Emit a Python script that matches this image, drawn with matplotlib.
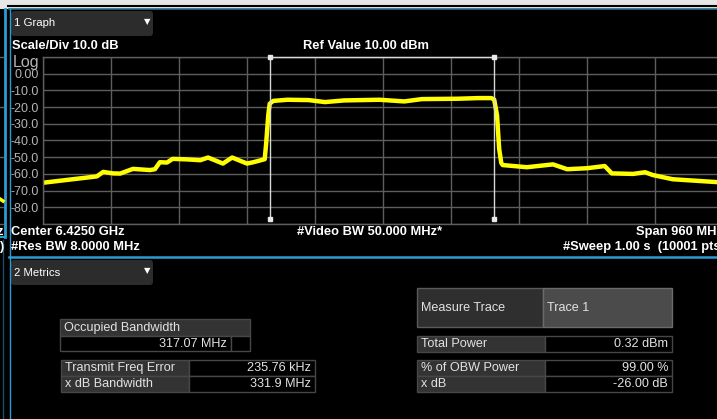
import matplotlib.pyplot as plt
from matplotlib.patches import Rectangle, FancyBboxPatch
import numpy as np

# trace (MHz, dBm)
freq_mhz = [5945, 5979, 6011, 6021, 6030, 6044, 6054, 6072, 6096, 6103, 6110, 6120,
            6128, 6148, 6167, 6178, 6199, 6212, 6233, 6242, 6258, 6260, 6263, 6265,
            6270, 6290, 6320, 6343, 6370, 6420, 6455, 6480, 6530, 6560, 6578, 6582,
            6586, 6589, 6592, 6594, 6628, 6665, 6685, 6713, 6738, 6748, 6778, 6795,
            6806, 6834, 6863, 6896, 6905]
level_dbm = [-65.3, -63.6, -62.0, -61.5, -58.8, -59.7, -59.8, -57.0, -57.7, -57.2, -53.0, -53.2,
             -51.0, -51.3, -51.8, -50.2, -53.8, -50.2, -53.8, -53.0, -51.2, -42.0, -25.0, -18.0,
             -16.3, -15.6, -15.8, -17.0, -16.0, -15.6, -16.6, -15.2, -15.0, -14.6, -14.6, -15.5,
             -25.0, -45.0, -53.5, -54.7, -56.0, -54.3, -57.2, -56.6, -55.3, -59.7, -60.0, -59.0,
             -60.7, -63.2, -64.0, -64.9, -65.2]
obw_edges = [6266, 6582]
center_mhz = 6425
span_mhz = 960
ref_level = 10
y_labels = ['0.00', '-10.0', '-20.0', '-30.0', '-40.0', '-50.0', '-60.0', '-70.0', '-80.0']

font = 'Liberation Sans'
grid_c = '#5e5e5e'
blue = '#2b9bd3'
hdr = 9.3   # bold header font size
tbl = 9.1   # table font size

fig = plt.figure(figsize=(7.17, 4.19), dpi=100, facecolor='black')

# background layer in pixel coordinates
bg = fig.add_axes([0, 0, 1, 1], zorder=0)
bg.set_xlim(0, 717)
bg.set_ylim(419, 0)
bg.axis('off')
bg.set_facecolor('black')

bg.add_patch(Rectangle((0, 0), 717, 9, color='#e6e6e6', lw=0))
bg.plot([8, 717], [6, 6], color='black', lw=1.5)
bg.plot([9, 717], [9.5, 9.5], color='#23708c', lw=1.2)
bg.plot([5, 5], [9, 237], color=blue, lw=2)
bg.plot([0, 5], [237, 237], color=blue, lw=1.5)
bg.plot([9.5, 9.5], [9, 419], color=blue, lw=1)
bg.plot([9, 717], [256.5, 256.5], color=blue, lw=1.8)
bg.plot([3, 3], [240, 419], color='#1d4f66', lw=1)
# neighbour window remnants on the far left
for yy in [57, 107, 157, 207, 224]:
    bg.plot([0, 3], [yy, yy], color=grid_c, lw=1)
bg.plot([0, 3], [199, 201], color='yellow', lw=2.5)
bg.text(3, 232, 'z', color='white', fontsize=hdr, fontweight='bold', family=font, ha='right', va='center')
bg.text(3, 247, ')', color='white', fontsize=hdr, fontweight='bold', family=font, ha='right', va='center')

# dropdown boxes
for y0, label in [(11, '1 Graph'), (260, '2 Metrics')]:
    bg.add_patch(FancyBboxPatch((11, y0), 142, 25, boxstyle='round,pad=0,rounding_size=3',
                                fc='#2c2c2c', ec='none'))
    bg.text(14, y0 + 12.5, label, color='white', fontsize=8.2, family=font, va='center')
    bg.text(147, y0 + 11, '\u25BC', color='white', fontsize=6, family='DejaVu Sans', ha='center', va='center')

# header texts
bg.text(12, 46, 'Scale/Div 10.0 dB', color='white', fontsize=hdr, fontweight='bold', family=font, va='center')
bg.text(366, 46, 'Ref Value 10.00 dBm', color='white', fontsize=hdr, fontweight='bold', family=font, va='center', ha='center')
bg.text(13, 62, 'Log', color='#b4b4b4', fontsize=11.5, family=font, va='center')
bg.text(11, 232, 'Center 6.4250 GHz', color='white', fontsize=hdr, fontweight='bold', family=font, va='center')
bg.text(11, 247, '#Res BW 8.0000 MHz', color='white', fontsize=hdr, fontweight='bold', family=font, va='center')
bg.text(370, 232, '#Video BW 50.000 MHz*', color='white', fontsize=hdr, fontweight='bold', family=font, va='center', ha='center')
bg.text(636, 232, 'Span 960 MHz', color='white', fontsize=hdr, fontweight='bold', family=font, va='center')
bg.text(563, 247, '#Sweep 1.00 s  (10001 pts)', color='white', fontsize=hdr, fontweight='bold', family=font, va='center')


def cell(x0, y0, w, h, fc, ec='#474747', text=None, ha='left', tc='#e2e2e2'):
    bg.add_patch(Rectangle((x0, y0), w, h, fc=fc, ec=ec, lw=1))
    if text:
        tx = x0 + 4 if ha == 'left' else x0 + w - 4
        bg.text(tx, y0 + h / 2, text, color=tc, fontsize=tbl, family=font, ha=ha, va='center')


# metrics tables
cell(60, 319, 190, 17, '#333333', text='Occupied Bandwidth')
cell(60, 336, 171, 15, 'black', text='317.07 MHz', ha='right')
cell(231, 336, 19, 15, 'black')
cell(61, 360, 128, 16, '#333333', text='Transmit Freq Error')
cell(189, 360, 126, 16, 'black', text='235.76 kHz', ha='right')
cell(61, 376, 128, 16, '#333333', text='x dB Bandwidth')
cell(189, 376, 126, 16, 'black', text='331.9 MHz', ha='right')

cell(417, 288, 126, 39, '#2f2f2f', ec='#5a5a5a', text='Measure Trace')
cell(543, 288, 129, 39, '#4b4b4b', ec='#6a6a6a', text='Trace 1')
cell(417, 336, 128, 16, '#333333', text='Total Power')
cell(545, 336, 127, 16, 'black', text='0.32 dBm', ha='right')
cell(417, 360, 128, 16, '#333333', text='% of OBW Power')
cell(545, 360, 127, 16, 'black', text='99.00 %', ha='right')
cell(417, 376, 128, 16, '#333333', text='x dB')
cell(545, 376, 127, 16, 'black', text='-26.00 dB', ha='right')

# spectrum graticule
ax = fig.add_axes([43 / 717, 1 - 224 / 419, 680 / 717, 167 / 419], zorder=2)
ax.set_facecolor('black')
f_lo = center_mhz - span_mhz / 2
f_hi = center_mhz + span_mhz / 2
ax.set_xlim(f_lo, f_hi)
ax.set_ylim(ref_level - 100, ref_level)
ax.set_xticks(np.linspace(f_lo, f_hi, 11))
ax.set_xticklabels([])
ax.set_yticks(np.arange(ref_level, ref_level - 101, -10))
ax.set_yticklabels([''] + y_labels + [''])
ax.tick_params(length=0, colors='#b4b4b4', labelsize=9, pad=3)
for lab in ax.get_yticklabels():
    lab.set_family(font)
ax.grid(True, color=grid_c, lw=1)
for s in ax.spines.values():
    s.set_color(grid_c)
    s.set_linewidth(1)
ax.spines['right'].set_visible(False)

ax.plot(freq_mhz, level_dbm, color='#ffff00', lw=3.2, solid_joinstyle='round')

# OBW bracket
bx = [obw_edges[0], obw_edges[0], obw_edges[1], obw_edges[1]]
by = [-87, ref_level, ref_level, -87]
ax.plot(bx, by, color='#d8d8d8', lw=1, clip_on=False, zorder=3)
ax.plot(bx, by, ls='none', marker='s', ms=2.5, color='#e8e8e8', clip_on=False, zorder=3)

fig.savefig('out.png', dpi=100, facecolor='black')
